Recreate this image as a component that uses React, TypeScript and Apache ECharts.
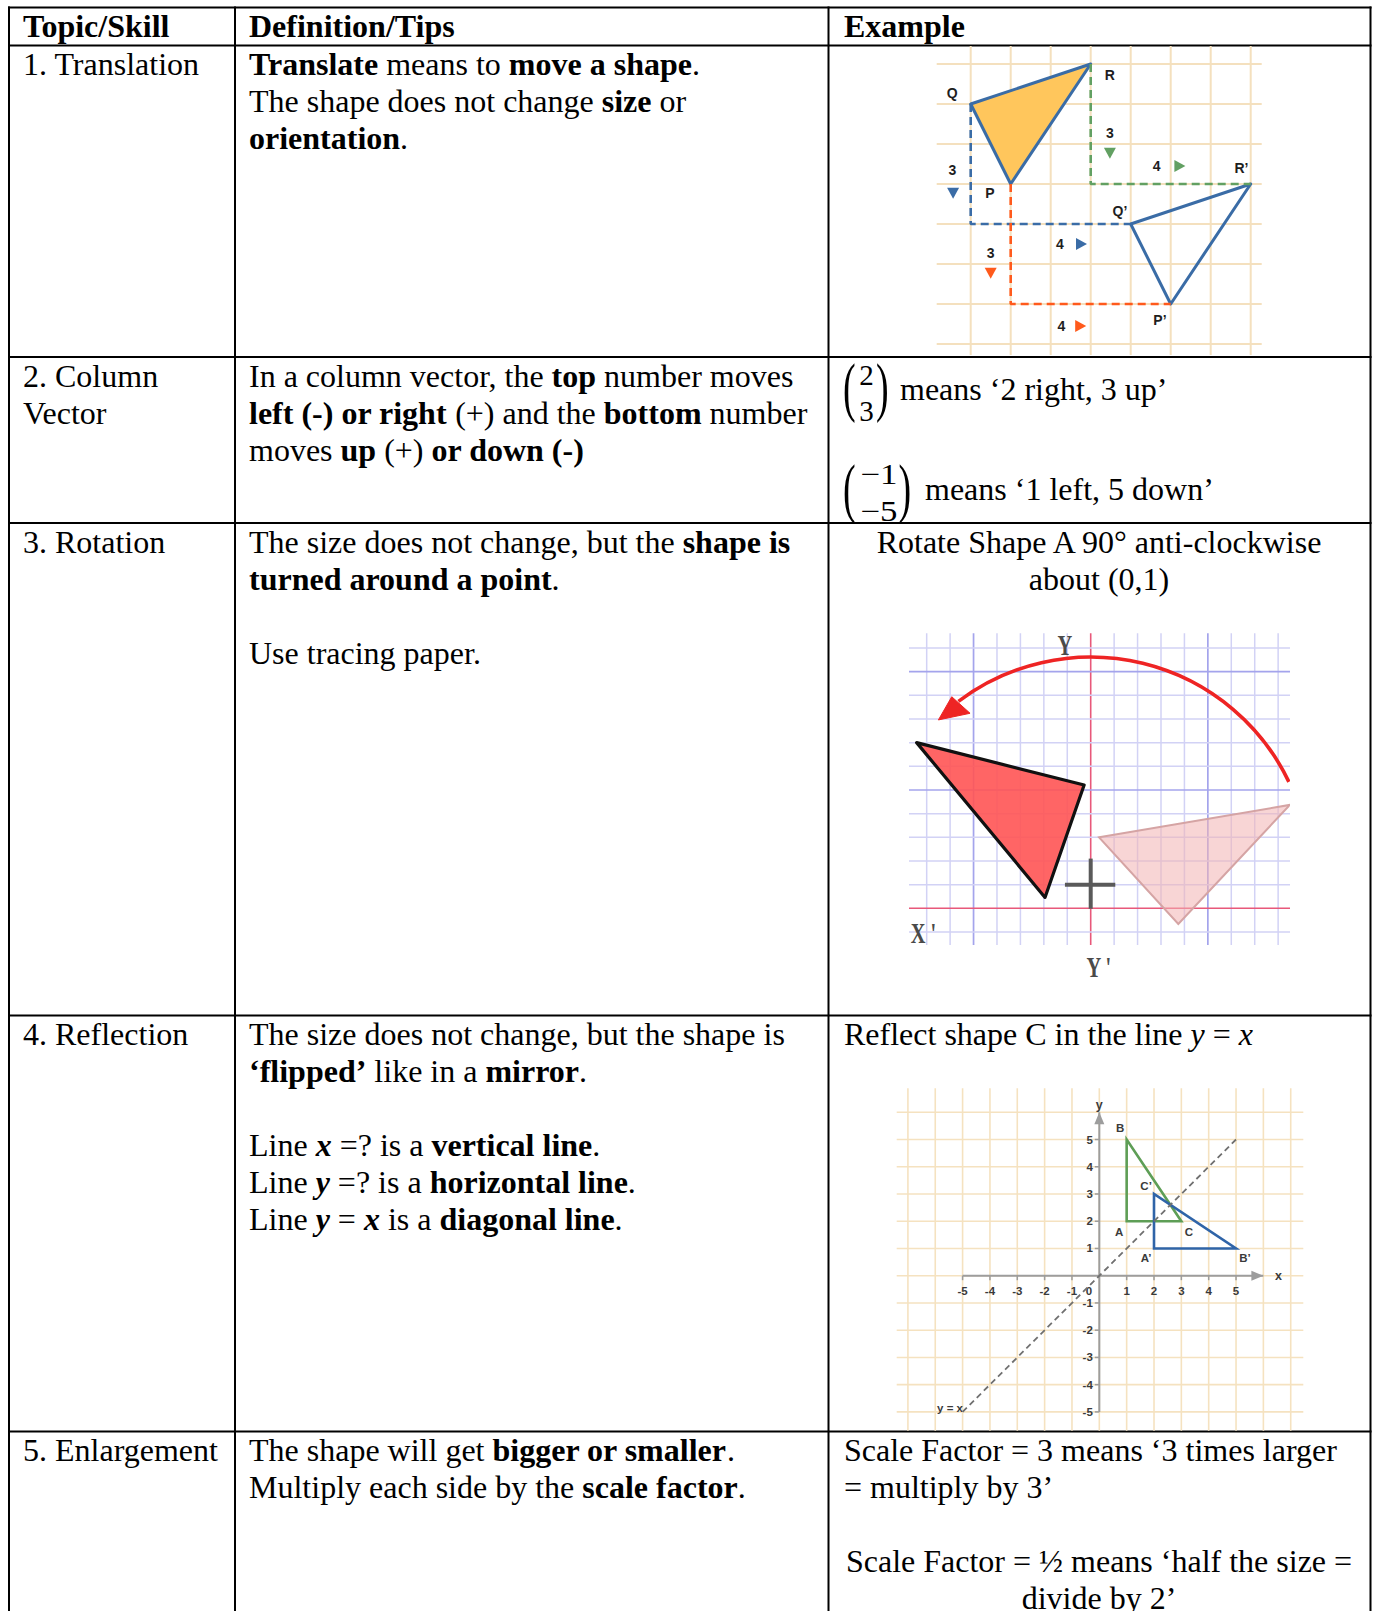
import React, { useEffect, useRef } from 'react';
import * as echarts from 'echarts';

const SERIF = '"Liberation Serif", "Times New Roman", Times, serif';
const SANS = '"Liberation Sans", Arial, Helvetica, sans-serif';

/* ------------------------- table text ------------------------- */
const HEADERS = ['Topic/Skill', 'Definition/Tips', 'Example'];
const TOPICS = [['1. Translation'], ['2. Column', 'Vector'], ['3. Rotation'], ['4. Reflection'], ['5. Enlargement']];
const DEFINITIONS = [
  ['{b|Translate }{n|means to }{b|move a shape}{n|.}', '{n|The shape does not change }{b|size }{n|or}', '{b|orientation}{n|.}'],
  ['{n|In a column vector, the }{b|top }{n|number moves}', '{b|left (-) or right }{n|(+) and the }{b|bottom }{n|number}', '{n|moves }{b|up }{n|(+) }{b|or down (-)}'],
  ['{n|The size does not change, but the }{b|shape is}', '{b|turned around a point}{n|.}', '', '{n|Use tracing paper.}'],
  [
    '{n|The size does not change, but the shape is}',
    '{b|‘flipped’ }{n|like in a }{b|mirror}{n|.}',
    '',
    '{n|Line }{m|x }{n|=? is a }{b|vertical line}{n|.}',
    '{n|Line }{m|y }{n|=? is a }{b|horizontal line}{n|.}',
    '{n|Line }{m|y }{n|= }{m|x }{n|is a }{b|diagonal line}{n|.}',
  ],
  ['{n|The shape will get }{b|bigger or smaller}{n|.}', '{n|Multiply each side by the }{b|scale factor}{n|.}'],
];
const VECTOR_TOPS = ['2', '−1'];
const VECTOR_BOTTOMS = ['3', '−5'];
const VECTOR_MEANINGS = ['means ‘2 right, 3 up’', 'means ‘1 left, 5 down’'];
const ROTATION_TASK = ['Rotate Shape A 90° anti-clockwise', 'about (0,1)'];
const REFLECTION_TASK = '{n|Reflect shape C in the line }{i|y }{n|= }{i|x}';
const ENLARGEMENT_NOTES = ['Scale Factor = 3 means ‘3 times larger', '= multiply by 3’', '', 'Scale Factor = ½ means ‘half the size =', 'divide by 2’'];
const ENLARGEMENT_CENTRED = [false, false, false, true, true];

/* ------------------------- translation diagram ------------------------- */
const TR_GRID_LINES = [0, 1, 2, 3, 4, 5, 6, 7];
const TR_OBJECT = [[0, 1], [3, 0], [1, 3]];
const TR_IMAGE = [[4, 4], [7, 3], [5, 6]];
const TR_PATH_Q = [[0, 1], [0, 4], [4, 4]];
const TR_PATH_R = [[3, 0], [3, 3], [7, 3]];
const TR_PATH_P = [[1, 3], [1, 6], [5, 6]];
const TR_VERTEX_NAMES = ['Q', 'R', 'P', 'Q’', 'R’', 'P’'];
const TR_VERTEX_NAME_AT = [[-0.46, 0.73], [3.48, 0.28], [0.48, 3.23], [3.73, 3.67], [6.77, 2.61], [4.73, 6.4]];
const TR_STEP_TEXT = ['3', '3', '4', '4', '3', '4'];
const TR_STEP_AT = [[-0.46, 2.65], [3.48, 1.73], [4.65, 2.55], [2.23, 4.5], [0.5, 4.72], [2.27, 6.55]];
const TR_ARROW_AT = [[-0.44, 3.23, 0], [3.48, 2.23, 0], [5.23, 2.55, 1], [2.77, 4.5, 1], [0.5, 5.23, 0], [2.75, 6.55, 1]];
const TR_ARROW_PATH = ['Q', 'R', 'R', 'Q', 'P', 'P'];

/* ------------------------- rotation diagram ------------------------- */
const RO_GRID_X = [-7, -6, -5, -4, -3, -2, -1, 0, 1, 2, 3, 4, 5, 6, 7, 8];
const RO_GRID_Y = [-1, 0, 1, 2, 3, 4, 5, 6, 7, 8, 9, 10, 11];
const RO_SHAPE_A = [[0.36, 3.0], [8.5, 4.37], [3.74, -0.66]];
const RO_IMAGE = [[-7.43, 7.0], [-0.28, 5.21], [-1.95, 0.46]];
const RO_CROSS = [[-1.1, 1, 1.05, 1], [0, -0.02, 0, 2.1]];
const RO_ARC = [[0, 1.33, 9.38, 25.6, 127]];
const RO_ARROWHEAD = [[-6.5, 7.96], [-5.93, 8.94], [-5.15, 8.24]];
const RO_AXIS_NAMES = ['Y', "X '", "Y '"];
const RO_AXIS_NAME_AT = [[-1.1, 11.12], [-7.14, -1.06], [0.35, -2.48]];

/* ------------------------- reflection diagram ------------------------- */
const RF_GRID_X = [-7, -6, -5, -4, -3, -2, -1, 0, 1, 2, 3, 4, 5, 6, 7];
const RF_GRID_Y = [-5, -4, -3, -2, -1, 0, 1, 2, 3, 4, 5, 6];
const RF_SHAPE_C = [[1, 2], [1, 5], [3, 2]];
const RF_IMAGE = [[2, 1], [5, 1], [2, 3]];
const RF_MIRROR = [[-5, -5], [5, 5]];
const RF_AXES = [[-5, 0, 6, 0], [0, -5, 0, 6]];
const RF_ARROW_TIPS = [[6, 0, 0], [0, 6, 1]];
const RF_TICKS = [-5, -4, -3, -2, -1, 1, 2, 3, 4, 5];
const RF_X_TICK_LABELS = ['-5', '-4', '-3', '-2', '-1', '0', '1', '2', '3', '4', '5'];
const RF_X_TICK_LABEL_AT = [-5, -4, -3, -2, -1, -0.38, 1, 2, 3, 4, 5];
const RF_Y_TICK_LABELS = ['5', '4', '3', '2', '1', '-1', '-2', '-3', '-4', '-5'];
const RF_Y_TICK_LABEL_AT = [5, 4, 3, 2, 1, -1, -2, -3, -4, -5];
const RF_POINT_NAMES = ['B', 'A', 'C', 'C’', 'A’', 'B’', 'y = x'];
const RF_POINT_NAME_AT = [[0.76, 5.43], [0.73, 1.62], [3.28, 1.62], [1.71, 3.29], [1.71, 0.64], [5.33, 0.64], [-5.46, -4.87]];
const RF_AXIS_NAMES = ['x', 'y'];
const RF_AXIS_NAME_AT = [[6.55, 0], [0, 6.27]];

/* ------------------------- layout & style ------------------------- */
const COL_LINES = [9, 235, 828.5, 1370.5];
const ROW_LINES = [7.5, 45.5, 357, 523, 1015.5, 1431.5];
const PAGE_H = 1611;
const COL_TEXT_X = [23, 249, 844];
const COL3_CENTRE = 1099;
const FIRST_BASELINE = 29.5;
const LINE_GAP = 37;
const MID_SHIFT = 10.8;

const TR_BLUE = '#3A6CA6';
const TR_GREEN = '#62A062';
const TR_ORANGE = '#FF5A1C';
const PATH_COLOUR: any = { Q: TR_BLUE, R: TR_GREEN, P: TR_ORANGE };

const RICH = {
  n: { fontFamily: SERIF, fontSize: 32, fill: '#000' },
  b: { fontFamily: SERIF, fontSize: 32, fontWeight: 'bold', fill: '#000' },
  i: { fontFamily: SERIF, fontSize: 32, fontStyle: 'italic', fill: '#000' },
  m: { fontFamily: SERIF, fontSize: 32, fontWeight: 'bold', fontStyle: 'italic', fill: '#000' },
};

function textLine(x: number, baseline: number, rich: string, align = 'left') {
  return {
    type: 'text',
    x,
    y: baseline - MID_SHIFT,
    silent: true,
    style: { text: rich, rich: RICH, align, verticalAlign: 'middle', fontFamily: SERIF, fontSize: 32, fill: '#000' },
  };
}
function plainText(x: number, cy: number, text: string, size: number, align = 'center', scaleX = 1) {
  return {
    type: 'text',
    x,
    y: cy,
    scaleX,
    silent: true,
    style: { text, align, verticalAlign: 'middle', fontFamily: SERIF, fontSize: size, fill: '#000' },
  };
}
function paren(x: number, cy: number, ch: string) {
  return {
    type: 'text',
    x,
    y: cy - 5.7,
    scaleY: 1.7,
    silent: true,
    style: { text: ch, align: 'left', verticalAlign: 'middle', fontFamily: SERIF, fontSize: 38, fill: '#000' },
  };
}

/* ------------------------- series builders ------------------------- */
function gridLines(gi: number, values: number[], orient: string, styleOf: (v: number) => any) {
  return {
    type: 'custom', xAxisIndex: gi, yAxisIndex: gi, silent: true, clip: false,
    data: values.map((v) => [v, v]),
    renderItem: (params: any, api: any) => {
      const cs = params.coordSys;
      const v = api.value(0);
      const st = styleOf(v);
      if (orient === 'v') {
        const x = api.coord([v, 0])[0];
        return { type: 'line', shape: { x1: x, y1: cs.y, x2: x, y2: cs.y + cs.height }, style: st };
      }
      const y = api.coord([0, v])[1];
      return { type: 'line', shape: { x1: cs.x, y1: y, x2: cs.x + cs.width, y2: y }, style: st };
    },
  };
}
function polygon(gi: number, pts: number[][], style: any, clip = false) {
  return {
    type: 'custom', xAxisIndex: gi, yAxisIndex: gi, silent: true, clip,
    data: pts,
    renderItem: (params: any, api: any) => {
      if (params.dataIndexInside !== 0) return null;
      const n = params.dataInsideLength;
      const points: number[][] = [];
      for (let i = 0; i < n; i++) points.push(api.coord([api.value(0, i), api.value(1, i)]));
      return { type: 'polygon', shape: { points }, style };
    },
  };
}
function dashed(gi: number, pts: number[][], color: string, width: number, dash: number[]) {
  return {
    type: 'line', xAxisIndex: gi, yAxisIndex: gi, data: pts, symbol: 'none', silent: true,
    lineStyle: { color, width, type: dash, cap: 'butt' }, emphasis: { disabled: true },
  };
}
function segments(gi: number, segs: number[][], style: any) {
  return {
    type: 'custom', xAxisIndex: gi, yAxisIndex: gi, silent: true, clip: false,
    data: segs,
    renderItem: (params: any, api: any) => {
      const a = api.coord([api.value(0), api.value(1)]);
      const b = api.coord([api.value(2), api.value(3)]);
      return { type: 'line', shape: { x1: a[0], y1: a[1], x2: b[0], y2: b[1] }, style };
    },
  };
}
function labels(gi: number, texts: string[], at: number[][], font: any, dx = 0, dy = 0, align = 'center', extra: any = {}) {
  return {
    type: 'custom', xAxisIndex: gi, yAxisIndex: gi, silent: true, clip: false,
    data: at,
    renderItem: (params: any, api: any) => {
      const p = api.coord([api.value(0), api.value(1)]);
      return {
        type: 'text', x: p[0] + dx, y: p[1] + dy, ...extra,
        style: { text: texts[params.dataIndex], align, verticalAlign: 'middle', ...font },
      };
    },
  };
}

/* ------------------------- option ------------------------- */
function buildOption() {
  const graphic: any[] = [];
  // table rules
  COL_LINES.forEach((x) => graphic.push({ type: 'line', silent: true, shape: { x1: x, y1: ROW_LINES[0] - 1, x2: x, y2: PAGE_H }, style: { stroke: '#000', lineWidth: 2 } }));
  ROW_LINES.forEach((y) => graphic.push({ type: 'line', silent: true, shape: { x1: COL_LINES[0] - 1, y1: y, x2: COL_LINES[3] + 1, y2: y }, style: { stroke: '#000', lineWidth: 2 } }));

  // headers
  HEADERS.forEach((h, i) => graphic.push(textLine(COL_TEXT_X[i], ROW_LINES[0] + FIRST_BASELINE, `{b|${h}}`)));
  // topics & definitions
  TOPICS.forEach((lines, r) => lines.forEach((t, k) => graphic.push(textLine(COL_TEXT_X[0], ROW_LINES[r + 1] + FIRST_BASELINE + k * LINE_GAP, `{n|${t}}`))));
  DEFINITIONS.forEach((lines, r) => lines.forEach((t, k) => {
    if (t) graphic.push(textLine(COL_TEXT_X[1], ROW_LINES[r + 1] + FIRST_BASELINE + k * LINE_GAP, t));
  }));

  // column vectors
  const vecLayout = [
    { l: 843, r: 876, cy: 392.5, nx: 866.5, ty: 374.5, by: 410.5, mx: 900, base: 400 },
    { l: 843, r: 898.5, cy: 493.5, nx: 879, ty: 474, by: 511, mx: 925, base: 500 },
  ];
  vecLayout.forEach((L, i) => {
    graphic.push(paren(L.l, L.cy, '('));
    graphic.push(paren(L.r, L.cy, ')'));
    [[VECTOR_TOPS[i], L.ty], [VECTOR_BOTTOMS[i], L.by]].forEach(([s, y]: any) => {
      const signed = s.startsWith('−');
      graphic.push(plainText(L.nx, y, s, 29, 'center', signed ? 1.2 : 1));
    });
    graphic.push(textLine(L.mx, L.base, `{n|${VECTOR_MEANINGS[i]}}`));
  });

  // rotation task
  ROTATION_TASK.forEach((t, k) => graphic.push(textLine(COL3_CENTRE, ROW_LINES[3] + FIRST_BASELINE + k * LINE_GAP, `{n|${t}}`, 'center')));
  // reflection task
  graphic.push(textLine(COL_TEXT_X[2], ROW_LINES[4] + FIRST_BASELINE, REFLECTION_TASK));
  // enlargement notes
  ENLARGEMENT_NOTES.forEach((t, k) => {
    if (!t) return;
    const c = ENLARGEMENT_CENTRED[k];
    graphic.push(textLine(c ? COL3_CENTRE : COL_TEXT_X[2], ROW_LINES[5] + FIRST_BASELINE + k * LINE_GAP, `{n|${t}}`, c ? 'center' : 'left'));
  });

  const trFont = { fontFamily: SANS, fontSize: 14, fontWeight: 'bold', fill: '#1e1e1e' };
  const rfFont = { fontFamily: SANS, fontSize: 11.5, fontWeight: 'bold', fill: '#3a3a3a' };
  const roLine = (v: number) => (v === 0
    ? { stroke: '#E8587A', lineWidth: 1.6 }
    : v % 5 === 0 ? { stroke: '#A4A4EC', lineWidth: 1.7 } : { stroke: '#D2D2F5', lineWidth: 1.5 });

  const series: any[] = [
    /* translation */
    gridLines(0, TR_GRID_LINES, 'v', () => ({ stroke: '#F4E0BE', lineWidth: 2 })),
    gridLines(0, TR_GRID_LINES, 'h', () => ({ stroke: '#F4E0BE', lineWidth: 2 })),
    dashed(0, TR_PATH_Q, TR_BLUE, 2.6, [8, 5]),
    dashed(0, TR_PATH_R, TR_GREEN, 2.6, [8, 5]),
    dashed(0, TR_PATH_P, TR_ORANGE, 2.6, [8, 5]),
    polygon(0, TR_OBJECT, { fill: '#FFC65C', stroke: TR_BLUE, lineWidth: 3, lineJoin: 'round' }),
    polygon(0, TR_IMAGE, { fill: 'none', stroke: TR_BLUE, lineWidth: 3, lineJoin: 'round' }),
    {
      type: 'custom', xAxisIndex: 0, yAxisIndex: 0, silent: true, clip: false,
      data: TR_ARROW_AT,
      renderItem: (params: any, api: any) => {
        const p = api.coord([api.value(0), api.value(1)]);
        const x = p[0];
        const y = p[1];
        const pts = api.value(2) === 0
          ? [[x - 6, y - 5.5], [x + 6, y - 5.5], [x, y + 5.5]]
          : [[x - 5.5, y - 6], [x - 5.5, y + 6], [x + 5.5, y]];
        return { type: 'polygon', shape: { points: pts }, style: { fill: PATH_COLOUR[TR_ARROW_PATH[params.dataIndex]] } };
      },
    },
    labels(0, TR_VERTEX_NAMES, TR_VERTEX_NAME_AT, trFont),
    labels(0, TR_STEP_TEXT, TR_STEP_AT, trFont),

    /* rotation */
    gridLines(1, RO_GRID_X, 'v', roLine),
    gridLines(1, RO_GRID_Y, 'h', roLine),
    polygon(1, RO_SHAPE_A, { fill: 'rgba(243,178,178,0.55)', stroke: '#D5A4A4', lineWidth: 2 }, true),
    polygon(1, RO_IMAGE, { fill: 'rgba(255,84,84,0.9)', stroke: '#111', lineWidth: 3.2, lineJoin: 'round' }),
    segments(1, RO_CROSS, { stroke: '#5a5a5a', lineWidth: 4 }),
    {
      type: 'custom', xAxisIndex: 1, yAxisIndex: 1, silent: true, clip: true,
      data: RO_ARC,
      renderItem: (params: any, api: any) => {
        const c = api.coord([api.value(0), api.value(1)]);
        const r = api.size([api.value(2), 0])[0];
        const s = api.value(3);
        const e = api.value(4);
        return {
          type: 'arc',
          shape: { cx: c[0], cy: c[1], r, startAngle: (-e * Math.PI) / 180, endAngle: (-s * Math.PI) / 180, clockwise: true },
          style: { stroke: '#EE2424', lineWidth: 3.6, fill: 'none' },
        };
      },
    },
    polygon(1, RO_ARROWHEAD, { fill: '#EE2424', stroke: '#EE2424', lineWidth: 1 }),
    labels(1, RO_AXIS_NAMES, RO_AXIS_NAME_AT, { fontFamily: SERIF, fontSize: 30, fontWeight: 'bold', fill: '#4a4a4a' }, 0, 0, 'center', { scaleX: 0.68 }),

    /* reflection */
    gridLines(2, RF_GRID_X, 'v', () => ({ stroke: '#F5E2C0', lineWidth: 1.6 })),
    gridLines(2, RF_GRID_Y, 'h', () => ({ stroke: '#F5E2C0', lineWidth: 1.6 })),
    segments(2, RF_AXES, { stroke: '#9d9d9d', lineWidth: 2 }),
    {
      type: 'custom', xAxisIndex: 2, yAxisIndex: 2, silent: true, clip: false,
      data: RF_TICKS.map((v) => [v, v]),
      renderItem: (params: any, api: any) => {
        const v = api.value(0);
        const a = api.coord([v, 0]);
        const b = api.coord([0, v]);
        return {
          type: 'group',
          children: [
            { type: 'line', shape: { x1: a[0], y1: a[1], x2: a[0], y2: a[1] + 4.5 }, style: { stroke: '#9d9d9d', lineWidth: 1.5 } },
            { type: 'line', shape: { x1: b[0] - 4.5, y1: b[1], x2: b[0], y2: b[1] }, style: { stroke: '#9d9d9d', lineWidth: 1.5 } },
          ],
        };
      },
    },
    {
      type: 'custom', xAxisIndex: 2, yAxisIndex: 2, silent: true, clip: false,
      data: RF_ARROW_TIPS,
      renderItem: (params: any, api: any) => {
        const p = api.coord([api.value(0), api.value(1)]);
        const x = p[0];
        const y = p[1];
        const pts = api.value(2) === 0 ? [[x, y], [x - 12, y - 5], [x - 12, y + 5]] : [[x, y], [x - 5, y + 12], [x + 5, y + 12]];
        return { type: 'polygon', shape: { points: pts }, style: { fill: '#9d9d9d' } };
      },
    },
    dashed(2, RF_MIRROR, '#707070', 1.8, [6, 4]),
    polygon(2, RF_SHAPE_C, { fill: 'none', stroke: '#5E9E56', lineWidth: 2.6, lineJoin: 'miter' }),
    polygon(2, RF_IMAGE, { fill: 'none', stroke: '#2F64A8', lineWidth: 2.6, lineJoin: 'miter' }),
    labels(2, RF_X_TICK_LABELS, RF_X_TICK_LABEL_AT.map((v) => [v, 0]), rfFont, 0, 15),
    labels(2, RF_Y_TICK_LABELS, RF_Y_TICK_LABEL_AT.map((v) => [0, v]), rfFont, -6.5, 0, 'right'),
    labels(2, RF_POINT_NAMES, RF_POINT_NAME_AT, rfFont),
    labels(2, RF_AXIS_NAMES, RF_AXIS_NAME_AT, { fontFamily: SANS, fontSize: 12.5, fontWeight: 'bold', fill: '#3a3a3a' }),
  ];

  return {
    animation: false,
    backgroundColor: '#ffffff',
    tooltip: { show: false },
    grid: [
      { left: 936.7, top: 46, width: 325, height: 309 },
      { left: 909, top: 633.3, width: 381, height: 311.7 },
      { left: 896.7, top: 1088.3, width: 406.6, height: 342.4 },
    ],
    xAxis: [
      { gridIndex: 0, type: 'value', min: -0.85, max: 7.275, show: false },
      { gridIndex: 1, type: 'value', min: -7.755, max: 8.506, show: false },
      { gridIndex: 2, type: 'value', min: -7.41, max: 7.46, show: false },
    ],
    yAxis: [
      { gridIndex: 0, type: 'value', min: -0.45, max: 7.275, inverse: true, show: false },
      { gridIndex: 1, type: 'value', min: -1.55, max: 11.62, show: false },
      { gridIndex: 2, type: 'value', min: -5.69, max: 6.88, show: false },
    ],
    graphic,
    series,
  };
}

export default function App() {
  const ref = useRef<HTMLDivElement>(null);
  useEffect(() => {
    if (!ref.current) return;
    const chart = echarts.init(ref.current, undefined, { renderer: 'svg' });
    chart.setOption(buildOption() as any);
    return () => chart.dispose();
  }, []);
  return (
    <div
      ref={ref}
      style={{ position: 'absolute', left: 0, top: 0, width: 1376, height: 1611, background: '#fff' }}
    />
  );
}
